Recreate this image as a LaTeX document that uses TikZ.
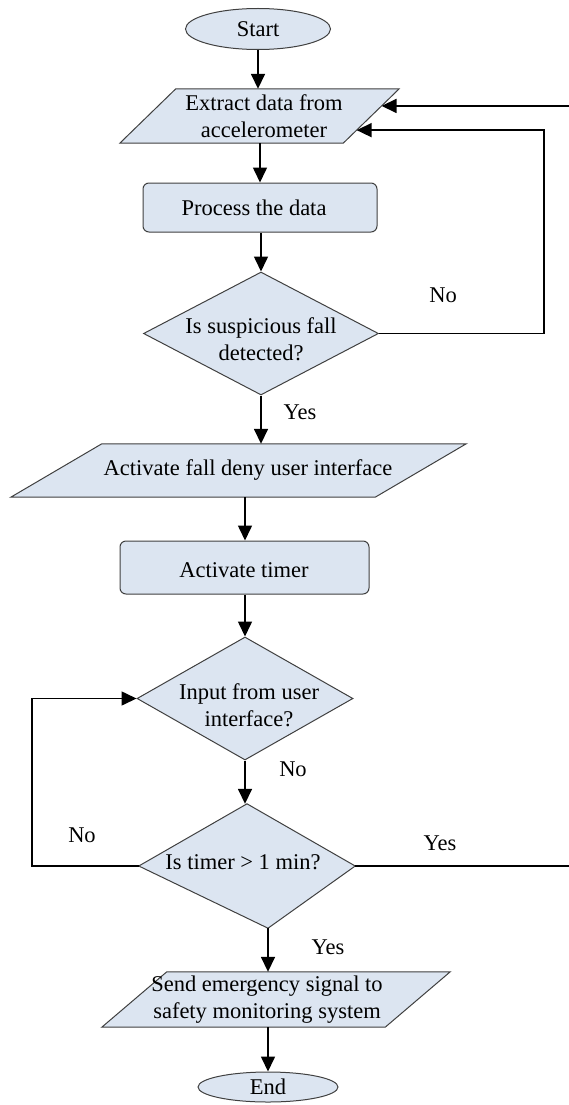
\documentclass[tikz,border=0pt]{standalone}
\usepackage{fontspec}
\setmainfont{Liberation Serif}
\usetikzlibrary{shapes.geometric,arrows.meta,calc}

\definecolor{boxfill}{HTML}{DCE5F1}
\definecolor{boxline}{HTML}{404040}

\tikzset{
  shapebase/.style={draw=boxline, line width=1pt, fill=boxfill, inner sep=0pt},
  terminal/.style={shapebase, ellipse},
  process/.style={shapebase, rectangle, rounded corners=6pt},
  decision/.style={shapebase, diamond},
  span/.style={inner sep=0pt},
  outline/.style={draw=boxline, line width=1pt, fill=boxfill, line join=miter},
  txt/.style={font=\fontsize{22.5}{27}\selectfont, align=center, inner sep=0pt},
  lbl/.style={font=\fontsize{22.5}{27}\selectfont, inner sep=0pt},
  arr/.style={line width=1.6pt, -{Triangle[length=15pt,width=14pt]}},
  ln/.style={line width=1.6pt},
}

\begin{document}
\begin{tikzpicture}[x=1pt,y=-1pt]
\useasboundingbox (0,0) rectangle (569,1105);

% terminals, processes and decisions
\node[terminal, minimum width=145pt, minimum height=41pt] (start) at (258,29) {};
\node[process, minimum width=234pt, minimum height=49pt] (proc) at (260,207.5) {};
\node[decision, minimum width=235pt, minimum height=123pt] (d1) at (261,333.5) {};
\node[process, minimum width=249pt, minimum height=53pt] (tim) at (244.5,567.5) {};
\node[decision, minimum width=216pt, minimum height=123pt] (d2) at (245,698.5) {};
\node[terminal, minimum width=140pt, minimum height=30pt] (end) at (268,1087) {};

% timer decision: its lower tip sits to the right of the upper one
\node[span, shape=diamond, minimum width=216pt, minimum height=124pt] (d3) at (247,866) {};
\coordinate (d3tip) at ($(d3.south)+(21,0)$);
\draw[outline] (d3.north) -- (d3.east) -- (d3tip) -- (d3.west) -- cycle;

% input/output parallelograms: a bounding node plus the slanted outline
\node[span, rectangle, minimum width=279pt, minimum height=54pt] (ext) at (259.5,116) {};
\node[span, rectangle, minimum width=455pt, minimum height=53pt] (act) at (238.5,470.5) {};
\node[span, rectangle, minimum width=348pt, minimum height=55pt] (send) at (276,999.5) {};
\draw[outline] (ext.south west) -- ($(ext.north west)+(56,0)$) -- (ext.north east)
  -- ($(ext.south east)+(-56,0)$) -- cycle;
\draw[outline] (act.south west) -- ($(act.north west)+(91,0)$) -- (act.north east)
  -- ($(act.south east)+(-91,0)$) -- cycle;
\draw[outline] (send.south west) -- ($(send.north west)+(65,0)$) -- (send.north east)
  -- ($(send.south east)+(-65,0)$) -- cycle;

% texts
\node[txt] (tstart) at (258,29) {Start};
\node[txt] (text) at (264,116) {Extract data from\\accelerometer};
\node[txt] (tproc) at (254,207.5) {Process the data};
\node[txt] (td1) at (261,339) {Is suspicious fall\\detected?};
\node[txt] (tact) at (248,470) {Activate fall deny user interface};
\node[txt] (ttim) at (244,570) {Activate timer};
\node[txt] (td2) at (249,705) {Input from user\\interface?};
\node[txt] (td3) at (243,862) {Is timer > 1 min?};
\node[txt] (tsend) at (267,1000) {Send emergency signal to\\safety monitoring system};
\node[txt] (tend) at (268,1087) {End};

% branch labels
\node[lbl] (l1) at (443,295) {No};
\node[lbl] (l2) at (300,412) {Yes};
\node[lbl] (l3) at (293,769) {No};
\node[lbl] (l4) at (82,835) {No};
\node[lbl] (l5) at (440,843) {Yes};
\node[lbl] (l6) at (328,947) {Yes};

% helper coordinates for loops and free ends
\coordinate (rloop) at (544,0);
\coordinate (lloop) at (32,0);
\coordinate (edgeA) at (569,0);
\coordinate (edgeB) at (569,866);
\coordinate (extA) at ($(ext.north east)!0.315!($(ext.south east)+(-56,0)$)$);
\coordinate (extB) at ($(ext.north east)!0.76!($(ext.south east)+(-56,0)$)$);

% main flow
\draw[arr] (start.south) -- (start.south |- ext.north);
\draw[arr] (proc.north |- ext.south) -- (proc.north);
\draw[arr] (d1.north |- proc.south) -- (d1.north);
\draw[arr] (d1.south) -- (d1.south |- act.north);
\draw[arr] (d2.north |- act.south) -- (d2.north |- tim.north);
\draw[arr] (d2.north |- tim.south) -- (d2.north);
\draw[arr] (d2.south) -- (d2.south |- d3.north);
\draw[arr] (d3tip) -- (d3tip |- send.north);
\draw[arr] (end.north |- send.south) -- (end.north);

% loops
\draw[arr] (d1.east) -| (rloop |- extB) -- (extB);
\draw[arr] (edgeA |- extA) -- (extA);
\draw[arr] (d3.west) -| (lloop |- d2.west) -- (d2.west);
\draw[ln] (d3.east) -- (edgeB);
\end{tikzpicture}
\end{document}
